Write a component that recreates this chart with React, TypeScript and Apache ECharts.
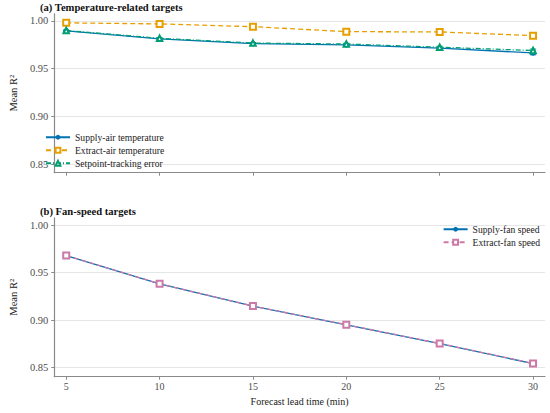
import React, { useEffect, useRef } from "react";
import * as echarts from "echarts";

const leadTimes = [5, 10, 15, 20, 25, 30];
const supplyAir = [0.9895, 0.9813, 0.9763, 0.975, 0.9715, 0.9665];
const supplyAirErr = [0.0005, 0.0005, 0.0006, 0.0008, 0.001, 0.002];
const extractAir = [0.998, 0.9969, 0.994, 0.9888, 0.9885, 0.9846];
const setpointErrSeries = [0.99, 0.9818, 0.9768, 0.9758, 0.9725, 0.969];
const setpointErrErr = [0.0005, 0.0005, 0.0006, 0.0008, 0.001, 0.0015];
const supplyFan = [0.9678, 0.938, 0.9146, 0.895, 0.8753, 0.8543];
const extractFan = [0.968, 0.9382, 0.9148, 0.8952, 0.8755, 0.8545];
const yTicks = [0.85, 0.9, 0.95, 1.0];
const xTicks = [5, 10, 15, 20, 25, 30];

const FONT = "'Liberation Serif', serif";
const BLUE = "#0072B2";
const ORANGE = "#E69F00";
const GREEN = "#009E73";
const PINK = "#CC79A7";
const AXIS = "#8a8a8a";

const pairs = (ys: number[]) => leadTimes.map((x, i) => [x, ys[i]]);
const errData = (ys: number[], es: number[]) =>
  leadTimes.map((x, i) => [x, ys[i] - es[i], ys[i] + es[i]]);

const errorBar = (color: string) => (params: any, api: any) => {
  const x = api.value(0);
  const top = api.coord([x, api.value(2)]);
  const bot = api.coord([x, api.value(1)]);
  const w = 3;
  const style = { stroke: color, lineWidth: 1 };
  return {
    type: "group",
    children: [
      { type: "line", shape: { x1: top[0], y1: top[1], x2: bot[0], y2: bot[1] }, style },
      { type: "line", shape: { x1: top[0] - w, y1: top[1], x2: top[0] + w, y2: top[1] }, style },
      { type: "line", shape: { x1: bot[0] - w, y1: bot[1], x2: bot[0] + w, y2: bot[1] }, style },
    ],
  };
};

const gridLines = () => ({
  silent: true,
  symbol: ["none", "none"],
  label: { show: false },
  lineStyle: { color: "#e6e6e6", type: "solid", width: 1 },
  emphasis: { disabled: true },
  data: yTicks.map((v) => ({ yAxis: v })),
  z: 0,
});

const xAxisBase = (gridIndex: number, showLabels: boolean) => ({
  type: "value",
  gridIndex,
  min: 4.36,
  max: 30.64,
  axisLine: { show: true, lineStyle: { color: AXIS, width: 1.2 } },
  axisTick: { show: true, length: 3, customValues: xTicks, lineStyle: { color: AXIS } },
  axisLabel: {
    show: showLabels,
    customValues: xTicks,
    fontFamily: FONT,
    fontSize: 10,
    color: "#4d4d4d",
    margin: 5,
  },
  splitLine: { show: false },
  ...(showLabels
    ? {
        name: "Forecast lead time (min)",
        nameLocation: "middle",
        nameGap: 20,
        nameTextStyle: { fontFamily: FONT, fontSize: 10, color: "#222" },
      }
    : {}),
});

const yAxisBase = (gridIndex: number, min: number) => ({
  type: "value",
  gridIndex,
  min,
  max: 1.0075,
  name: "Mean R²",
  nameLocation: "middle",
  nameRotate: 90,
  nameGap: 34,
  nameTextStyle: { fontFamily: FONT, fontSize: 10.5, color: "#222" },
  axisLine: { show: true, lineStyle: { color: AXIS, width: 1.2 } },
  axisTick: { show: true, length: 3, customValues: yTicks, lineStyle: { color: AXIS } },
  axisLabel: {
    customValues: yTicks,
    formatter: (v: number) => v.toFixed(2),
    fontFamily: FONT,
    fontSize: 10.5,
    color: "#4d4d4d",
    margin: 6,
  },
  splitLine: { show: false },
});

const legendText = {
  fontFamily: FONT,
  fontSize: 9.6,
  color: "#222",
  lineHeight: 12.5,
  rich: {
    s: { fontFamily: FONT, fontSize: 9.6, color: "#222" },
  },
};

export default function App() {
  const ref = useRef<HTMLDivElement>(null);
  useEffect(() => {
    if (!ref.current) return;
    const chart = echarts.init(ref.current, null, { renderer: "svg" });
    const option: any = {
      animation: false,
      backgroundColor: "#fff",
      textStyle: { fontFamily: FONT },
      title: [
        {
          text: "(a) Temperature-related targets",
          left: 40,
          top: 2,
          padding: 0,
          textStyle: { fontFamily: FONT, fontSize: 10.6, fontWeight: "bold", color: "#111" },
        },
        {
          text: "(b) Fan-speed targets",
          left: 40,
          top: 206,
          padding: 0,
          textStyle: { fontFamily: FONT, fontSize: 10.6, fontWeight: "bold", color: "#111" },
        },
      ],
      grid: [
        { left: 40.7, right: 5, top: 13.8, height: 158.9 },
        { left: 40.7, right: 5, top: 217.9, height: 158.8 },
      ],
      xAxis: [xAxisBase(0, false), xAxisBase(1, true)],
      yAxis: [yAxisBase(0, 0.8409), yAxisBase(1, 0.8405)],
      legend: [
        {
          data: ["Supply-air temperature", "Extract-air temperature", "Setpoint-tracking error"],
          orient: "vertical",
          left: 45,
          top: 131,
          itemWidth: 24,
          itemHeight: 6,
          itemGap: 0.5,
          itemStyle: { borderWidth: 1 },
          padding: 0,
          formatter: (n: string) => `{s|${n}}`,
          textStyle: legendText,
        },
        {
          data: ["Supply-fan speed", "Extract-fan speed"],
          orient: "vertical",
          right: 10,
          top: 223,
          itemWidth: 24,
          itemHeight: 6,
          itemGap: 0.5,
          itemStyle: { borderWidth: 1 },
          padding: 0,
          formatter: (n: string) => `{s|${n}}`,
          textStyle: legendText,
        },
      ],
      series: [
        {
          name: "Supply-air temperature",
          type: "line",
          xAxisIndex: 0,
          yAxisIndex: 0,
          data: pairs(supplyAir),
          color: BLUE,
          symbol: "circle",
          symbolSize: 5.5,
          lineStyle: { width: 1.3, color: BLUE },
          markLine: gridLines(),
        },
        {
          type: "custom",
          xAxisIndex: 0,
          yAxisIndex: 0,
          data: errData(supplyAir, supplyAirErr),
          renderItem: errorBar(BLUE),
          silent: true,
        },
        {
          name: "Extract-air temperature",
          type: "line",
          xAxisIndex: 0,
          yAxisIndex: 0,
          data: pairs(extractAir),
          color: ORANGE,
          symbol: "emptyRect",
          symbolSize: 6,
          itemStyle: { borderWidth: 1.1 },
          lineStyle: { width: 1.3, color: ORANGE, type: [5, 3] },
        },
        {
          name: "Setpoint-tracking error",
          type: "line",
          xAxisIndex: 0,
          yAxisIndex: 0,
          data: pairs(setpointErrSeries),
          color: GREEN,
          symbol: "emptyTriangle",
          symbolSize: 5.5,
          itemStyle: { borderWidth: 1.1 },
          lineStyle: { width: 1.3, color: GREEN, type: [5, 2, 1, 2] },
        },
        {
          type: "custom",
          xAxisIndex: 0,
          yAxisIndex: 0,
          data: errData(setpointErrSeries, setpointErrErr),
          renderItem: errorBar(GREEN),
          silent: true,
        },
        {
          name: "Supply-fan speed",
          type: "line",
          xAxisIndex: 1,
          yAxisIndex: 1,
          data: pairs(supplyFan),
          color: BLUE,
          symbol: "circle",
          symbolSize: 5.5,
          lineStyle: { width: 1.3, color: BLUE },
          markLine: gridLines(),
        },
        {
          name: "Extract-fan speed",
          type: "line",
          xAxisIndex: 1,
          yAxisIndex: 1,
          data: pairs(extractFan),
          color: PINK,
          symbol: "emptyRect",
          symbolSize: 6,
          itemStyle: { borderWidth: 1.1 },
          lineStyle: { width: 1.3, color: PINK, type: [5, 3] },
        },
      ],
    };
    chart.setOption(option);
    return () => chart.dispose();
  }, []);
  return (
    <div
      ref={ref}
      style={{ position: "absolute", left: 0, top: 0, width: 550, height: 413 }}
    />
  );
}
